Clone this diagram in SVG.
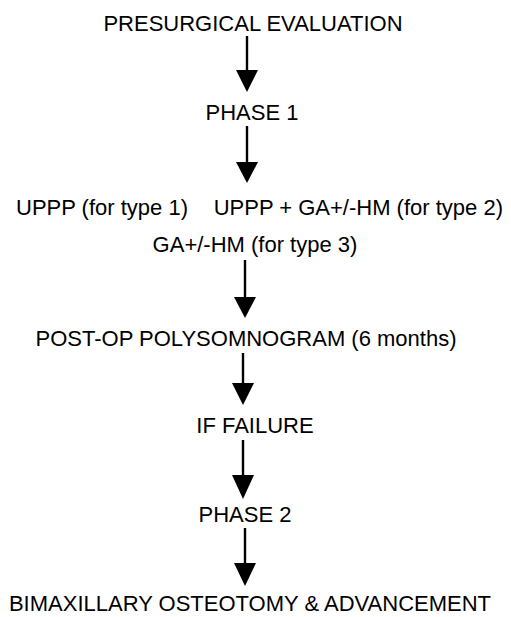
<svg xmlns="http://www.w3.org/2000/svg" width="511" height="617" viewBox="0 0 511 617">
  <style>
    .lbl { font-family: "Liberation Sans", Arial, sans-serif; font-size: 22px; fill: #000; text-anchor: middle; }
    .shaft { stroke: #000; stroke-width: 2.4; fill: none; }
    .head { fill: #000; }
  </style>
  <rect width="511" height="617" fill="#fff"/>

  <g id="connectors">
    <g id="c1"><line class="shaft" x1="247" y1="36" x2="247" y2="72"/><polygon class="head" points="236,70 258,70 247,92"/></g>
    <g id="c2"><line class="shaft" x1="247" y1="126" x2="247" y2="163"/><polygon class="head" points="236,162 258,162 247,183"/></g>
    <g id="c3"><line class="shaft" x1="245" y1="260" x2="245" y2="298"/><polygon class="head" points="234,297 256,297 245,318"/></g>
    <g id="c4"><line class="shaft" x1="243" y1="353" x2="243" y2="385"/><polygon class="head" points="232,383 254,383 243,405"/></g>
    <g id="c5"><line class="shaft" x1="243" y1="440" x2="243" y2="476"/><polygon class="head" points="232,475 254,475 243,499"/></g>
    <g id="c6"><line class="shaft" x1="245" y1="528" x2="245" y2="565"/><polygon class="head" points="234,563 256,563 245,586"/></g>
  </g>

  <g id="presurgical"><text class="lbl" x="253" y="31">PRESURGICAL EVALUATION</text></g>
  <g id="phase1"><text class="lbl" x="252" y="120">PHASE 1</text></g>
  <g id="phase1-options">
    <text class="lbl" x="102" y="215">UPPP (for type 1)</text>
    <text class="lbl" x="503" y="215" style="text-anchor:end">UPPP + GA+/-HM (for type 2)</text>
    <text class="lbl" x="255" y="252">GA+/-HM (for type 3)</text>
  </g>
  <g id="polysomnogram"><text class="lbl" x="246" y="346">POST-OP POLYSOMNOGRAM (6 months)</text></g>
  <g id="failure"><text class="lbl" x="255" y="433">IF FAILURE</text></g>
  <g id="phase2"><text class="lbl" x="245" y="522">PHASE 2</text></g>
  <g id="osteotomy"><text class="lbl" x="250" y="611">BIMAXILLARY OSTEOTOMY &amp; ADVANCEMENT</text></g>
</svg>
